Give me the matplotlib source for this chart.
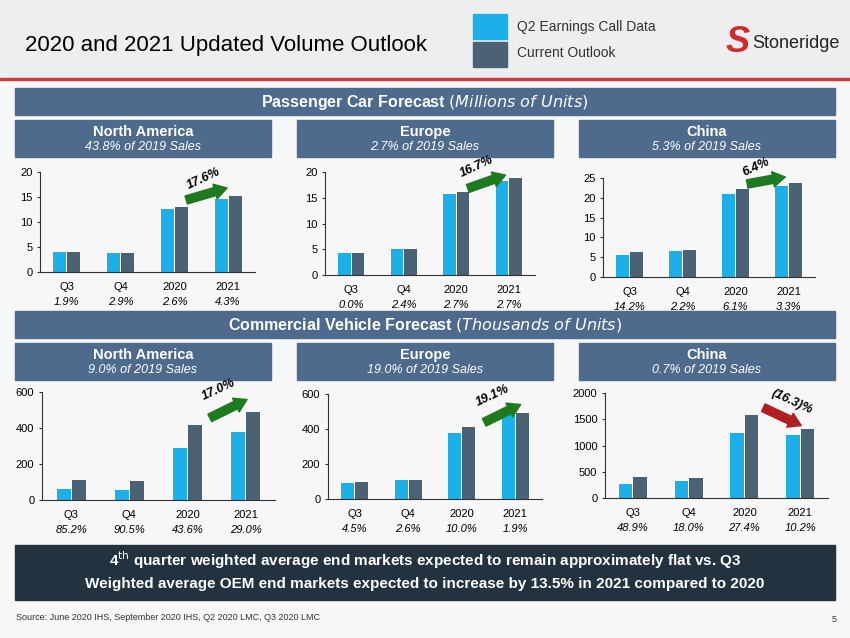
import numpy as np
import matplotlib.pyplot as plt
from matplotlib.patches import Rectangle

plt.rcParams['font.family'] = ['Liberation Sans Narrow', 'Liberation Sans', 'DejaVu Sans']

W, H = 850, 638
LIGHT = '#1DAFEA'
DARK = '#4A6274'
BANNER = '#4E6A8C'
CATS = ['Q3', 'Q4', '2020', '2021']


class Panel:
    """Panel
    One regional bar chart of the slide

    Args:
        box(tuple): left, top, right, bottom of the axes in pixels
        q2(list): Q2 earnings call values
        current(list): current outlook values
        ymax(float): top of the y axis
        step(float): tick step
        pcts(list): percent labels under the categories
        arrow(tuple): start, end and text position in axes fraction
        change(str): label of the arrow
        up(bool): green arrow up, red arrow down
    """
    def __init__(self, box, q2, current, ymax, step, pcts, arrow, change, up=True):
        self._box = box
        self._q2 = np.array(q2)
        self._current = np.array(current)
        self._ymax = ymax
        self._step = step
        self._pcts = pcts
        self._arrow = arrow
        self._change = change
        self._up = up

    def draw(self, fig):
        l, t, r, b = self._box
        ax = fig.add_axes([l / W, 1 - b / H, (r - l) / W, (b - t) / H])
        x = np.arange(len(CATS))
        ax.bar(x - 0.13, self._q2, 0.24, color=LIGHT)
        ax.bar(x + 0.13, self._current, 0.24, color=DARK)
        ax.set_xlim(-0.5, 3.5)
        ax.set_ylim(0, self._ymax)
        ax.set_yticks(np.arange(0, self._ymax + 1, self._step))
        ax.set_xticks(x)
        ax.set_xticklabels(CATS, fontsize=8)
        ax.tick_params(axis='y', labelsize=8, length=2, color='#333333')
        ax.tick_params(axis='x', length=0, pad=7)
        for side in ['top', 'right']:
            ax.spines[side].set_visible(False)
        ax.spines['left'].set_color('#333333')
        ax.spines['bottom'].set_color('#333333')
        ax.patch.set_alpha(0)
        for i, p in enumerate(self._pcts):
            ax.text(i, -30 / (b - t), p, transform=ax.get_xaxis_transform(), ha='center',
                    va='center', fontsize=8, style='italic')  # 30 px below the axis
        start, end, txt = self._arrow
        color = '#1F7A1F' if self._up else '#B01E1E'
        ax.annotate('', xy=end, xytext=start, xycoords='axes fraction',
                    arrowprops=dict(arrowstyle='simple,head_width=1.1,head_length=0.9,tail_width=0.6',
                                    color=color, shrinkA=0, shrinkB=0))
        ax.text(txt[0], txt[1], self._change, transform=ax.transAxes, ha='center',
                va='center', fontsize=9, fontweight='bold', style='italic',
                rotation=25 if self._up else -25, zorder=5)
        return ax


def banner(fig, l, t, r, b, color=BANNER):
    fig.patches.append(Rectangle((l / W, 1 - b / H), (r - l) / W, (b - t) / H,
                                 transform=fig.transFigure, color=color, zorder=-1))


fig = plt.figure(figsize=(8.5, 6.38), dpi=100)
fig.patch.set_facecolor('#F7F7F7')

# header
fig.patches.append(Rectangle((0, 1 - 79 / H), 1, 79 / H, transform=fig.transFigure,
                             color='#EDEEF0', zorder=-2))
fig.patches.append(Rectangle((0, 1 - 80 / H), 1, 2 / H, transform=fig.transFigure,
                             color='#D23A3A', zorder=-1))
fig.text(25 / W, 1 - 45 / H, '2020 and 2021 Updated Volume Outlook', fontsize=16,
         family=['Liberation Sans', 'DejaVu Sans'], va='center')
banner(fig, 473, 14, 507, 39, LIGHT)
banner(fig, 473, 42, 507, 67, DARK)
fig.text(517 / W, 1 - 27 / H, 'Q2 Earnings Call Data', fontsize=10, color='#333333', va='center')
fig.text(517 / W, 1 - 53 / H, 'Current Outlook', fontsize=10, color='#333333', va='center')
fig.text(752 / W, 1 - 43 / H, 'Stoneridge', fontsize=13, color='#222222', va='center')
fig.text(738 / W, 1 - 43 / H, 'S', fontsize=26, color='#D42A2A', va='center',
         ha='center', style='italic', fontweight='bold')

# section banners
banner(fig, 15, 88, 835, 115)
fig.text(0.5, 1 - 102 / H, r'Passenger Car Forecast $\it{(Millions\ of\ Units)}$', color='white',
         fontsize=11.5, fontweight='bold', ha='center', va='center')
banner(fig, 15, 311, 835, 338)
fig.text(0.5, 1 - 325 / H, r'Commercial Vehicle Forecast $\it{(Thousands\ of\ Units)}$', color='white',
         fontsize=11.5, fontweight='bold', ha='center', va='center')

subs = [('North America', '43.8% of 2019 Sales', '9.0% of 2019 Sales', 15, 271),
        ('Europe', '2.7% of 2019 Sales', '19.0% of 2019 Sales', 297, 553),
        ('China', '5.3% of 2019 Sales', '0.7% of 2019 Sales', 579, 835)]
for name, pc, cv, l, r in subs:
    for t, sub in [(120, pc), (343, cv)]:
        banner(fig, l, t, r, t + 37)
        fig.text((l + r) / 2 / W, 1 - (t + 12) / H, name, color='white', fontsize=10.5,
                 fontweight='bold', ha='center', va='center')
        fig.text((l + r) / 2 / W, 1 - (t + 27) / H, sub, color='white', fontsize=9,
                 style='italic', ha='center', va='center')

panels = [
    Panel((40, 172, 255, 272), [4.0, 3.8, 12.7, 14.7], [4.1, 3.9, 13.0, 15.2], 20, 5,
          ['1.9%', '2.9%', '2.6%', '4.3%'], ((0.68, 0.72), (0.87, 0.84), (0.76, 0.93)), '17.6%'),
    Panel((325, 172, 535, 275), [4.3, 5.0, 15.8, 18.3], [4.3, 5.1, 16.2, 18.8], 20, 5,
          ['0.0%', '2.4%', '2.7%', '2.7%'], ((0.68, 0.84), (0.86, 0.97), (0.72, 1.05)), '16.7%'),
    Panel((603, 178, 815, 277), [5.5, 6.6, 21.0, 23.0], [6.2, 6.7, 22.3, 23.7], 25, 5,
          ['14.2%', '2.2%', '6.1%', '3.3%'], ((0.68, 0.94), (0.86, 1.01), (0.72, 1.11)), '6.4%'),
    Panel((42, 392, 275, 500), [60, 55, 290, 378], [112, 105, 418, 490], 600, 200,
          ['85.2%', '90.5%', '43.6%', '29.0%'], ((0.72, 0.76), (0.88, 0.93), (0.76, 1.02)), '17.0%'),
    Panel((328, 394, 542, 499), [93, 108, 375, 480], [98, 111, 412, 490], 600, 200,
          ['4.5%', '2.6%', '10.0%', '1.9%'], ((0.73, 0.73), (0.90, 0.90), (0.77, 0.98)), '19.1%'),
    Panel((605, 393, 828, 498), [265, 320, 1240, 1195], [395, 375, 1580, 1320], 2000, 500,
          ['48.9%', '18.0%', '27.4%', '10.2%'], ((0.71, 0.86), (0.88, 0.69), (0.84, 0.92)), '(16.3)%', up=False),
]
for panel in panels:
    panel.draw(fig)

# bottom message
banner(fig, 15, 545, 835, 600, '#22333F')
fig.text(0.5, 1 - 560 / H, r'4$^{\mathrm{th}}$ quarter weighted average end markets expected to remain approximately flat vs. Q3',
         color='white', fontsize=11, fontweight='bold', ha='center', va='center')
fig.text(0.5, 1 - 584 / H, 'Weighted average OEM end markets expected to increase by 13.5% in 2021 compared to 2020',
         color='white', fontsize=11, fontweight='bold', ha='center', va='center')
fig.text(16 / W, 1 - 618 / H, 'Source: June 2020 IHS, September 2020 IHS, Q2 2020 LMC, Q3 2020 LMC',
         fontsize=6.5, color='#333333', va='center')
fig.text(832 / W, 1 - 620 / H, '5', fontsize=6.5, color='#333333', va='center')

fig.savefig('out.png', dpi=100, facecolor=fig.get_facecolor())
